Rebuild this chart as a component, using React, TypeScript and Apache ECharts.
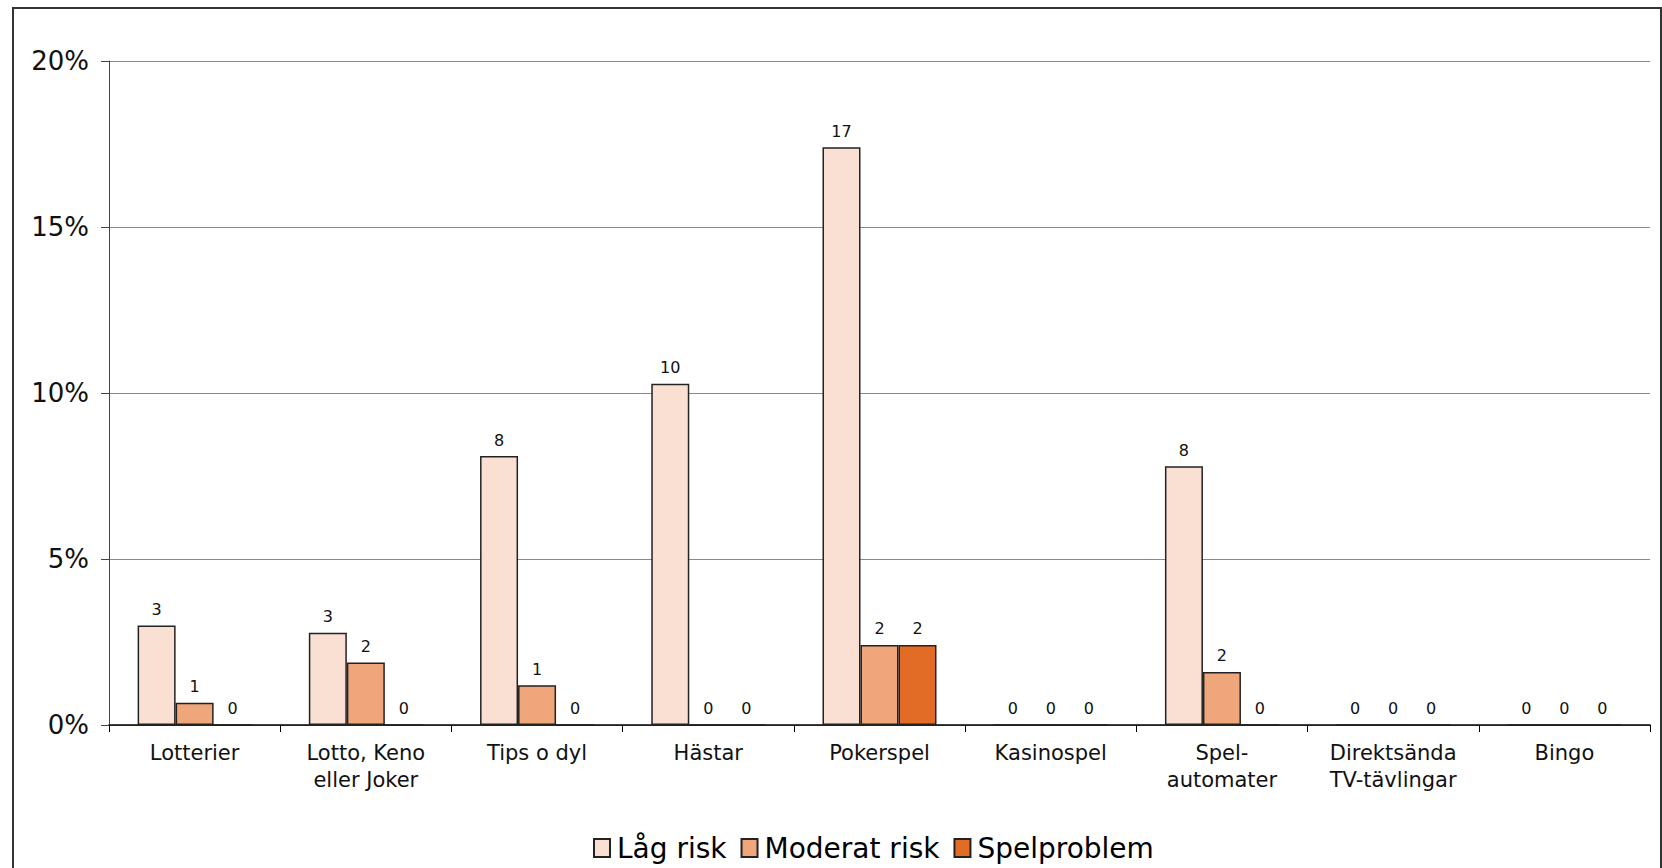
import React, { useEffect, useRef } from "react";
import * as echarts from "echarts";

const categories = [
  "Lotterier",
  "Lotto, Keno\neller Joker",
  "Tips o dyl",
  "Hästar",
  "Pokerspel",
  "Kasinospel",
  "Spel-\nautomater",
  "Direktsända\nTV-tävlingar",
  "Bingo",
];
const seriesNames = ["Låg risk", "Moderat risk", "Spelproblem"];
const lagRisk = [3.0, 2.78, 8.1, 10.28, 17.4, 0, 7.79, 0, 0];
const moderatRisk = [0.67, 1.88, 1.2, 0, 2.41, 0, 1.6, 0, 0];
const spelproblem = [0, 0, 0, 0, 2.41, 0, 0, 0, 0];
const yTicks = [0, 5, 10, 15, 20];
const colors = ["#F9E0D3", "#EFA67B", "#E26B25"];

const FONT = "DejaVu Sans";

export default function App() {
  const ref = useRef<HTMLDivElement>(null);
  useEffect(() => {
    if (!ref.current) return;
    const chart = echarts.init(ref.current, null, { renderer: "svg" });
    const data = [lagRisk, moderatRisk, spelproblem];
    chart.setOption({
      animation: false,
      backgroundColor: "#ffffff",
      textStyle: { fontFamily: FONT },
      graphic: [
        {
          type: "rect",
          shape: { x: 13, y: 8, width: 1648, height: 1000 },
          style: { fill: "none", stroke: "#333333", lineWidth: 2 },
          silent: true,
        },
      ],
      grid: { left: 109, right: 12, top: 61, bottom: 143, containLabel: false },
      legend: {
        data: seriesNames,
        bottom: 1,
        left: 588,
        itemWidth: 16,
        itemHeight: 18,
        itemGap: 14,
        icon: "rect",
        textStyle: { fontFamily: FONT, fontSize: 28, color: "#000", padding: [0, 0, 0, 2] },
      },
      xAxis: {
        type: "category",
        data: categories,
        axisLine: { show: true, lineStyle: { color: "#000", width: 1.5 } },
        axisTick: { show: true, length: 7, lineStyle: { color: "#000" }, alignWithLabel: false },
        axisLabel: {
          fontFamily: FONT,
          fontSize: 21,
          color: "#111",
          margin: 14,
          lineHeight: 27,
          interval: 0,
        },
      },
      yAxis: {
        type: "value",
        min: 0,
        max: 20,
        interval: 5,
        axisLine: { show: true, lineStyle: { color: "#444", width: 1 } },
        axisTick: { show: true, length: 8, lineStyle: { color: "#444" } },
        axisLabel: {
          fontFamily: FONT,
          fontSize: 26,
          color: "#111",
          margin: 20,
          formatter: (v: number) => (yTicks.includes(v) ? v + "%" : ""),
        },
        splitLine: { show: true, lineStyle: { color: "#8a8a8a", width: 1 } },
      },
      series: seriesNames.map((name, i) => ({
        name,
        type: "bar",
        data: data[i],
        barWidth: 38,
        barGap: "0%",
        itemStyle: { color: colors[i], borderColor: "#222", borderWidth: 1.5 },
        label: {
          show: true,
          position: "top",
          distance: 8,
          fontFamily: FONT,
          fontSize: 16,
          color: "#111",
          formatter: (p: any) => String(Math.round(p.value)),
        },
      })),
    });
    return () => chart.dispose();
  }, []);
  return (
    <div
      ref={ref}
      style={{ position: "absolute", left: 0, top: 0, width: 1662, height: 868 }}
    />
  );
}
